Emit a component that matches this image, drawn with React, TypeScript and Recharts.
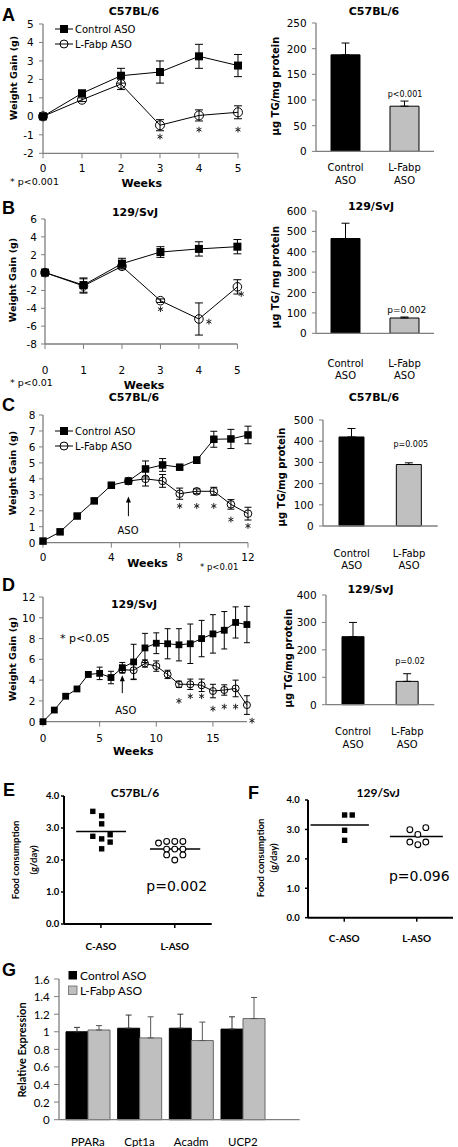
import React from 'react';
import { ComposedChart, BarChart, ScatterChart, Line, Bar, Scatter, Cell, XAxis, YAxis, ErrorBar, ReferenceLine } from 'recharts';

const VERDANA = '"DejaVu Sans", Verdana, sans-serif';
const CALIBRI = 'Lato, "Open Sans", sans-serif';
const ARIAL = '"Liberation Sans", Arial, sans-serif';
const AXIS = '#7f7f7f';

// ---------- Panel A ----------
const weeksA = [0, 1, 2, 3, 4, 5];
const ctrlA = [0, 1.25, 2.2, 2.4, 3.25, 2.75];
const ctrlErrA = [0, 0.15, 0.4, 0.6, 0.65, 0.6];
const lfabpA = [0, 0.9, 1.75, -0.48, 0.05, 0.22];
const lfabpErrA = [0, 0.1, 0.3, 0.3, 0.3, 0.35];
const starXA = [3, 4, 5];
const starYA = [-1.1, -0.72, -0.72];
const tgCats = ['Control\nASO', 'L-Fabp\nASO'];
const tgA = [188, 88];
const tgErrA = [23, 10];

// ---------- Panel B ----------
const weeksB = [0, 1, 2, 3, 4, 5];
const ctrlB = [0, -1.4, 1.0, 2.3, 2.65, 2.9];
const ctrlErrB = [0, 0.8, 0.6, 0.6, 0.8, 0.8];
const lfabpB = [0, -1.5, 0.7, -3.15, -5.2, -1.6];
const lfabpErrB = [0, 0.8, 0.2, 0.2, 1.8, 0.8];
const starXB = [3, 4.26, 5.1];
const starYB = [-4.1, -5.5, -2.4];
const tgB = [465, 75];
const tgErrB = [75, 5];

// ---------- Panel C ----------
const weeksC = [0, 1, 2, 3, 4, 5, 6, 7, 8, 9, 10, 11, 12];
const ctrlC = [0.1, 0.68, 1.67, 2.62, 3.6, 3.86, 4.62, 4.87, 4.73, 5.17, 6.48, 6.5, 6.75];
const ctrlErrC = [0, 0, 0.1, 0.15, 0.1, 0.1, 0.5, 0.4, 0.15, 0.2, 0.5, 0.6, 0.55];
const lfabpC = [null, null, null, null, null, 3.86, 4.0, 3.87, 3.07, 3.22, 3.22, 2.4, 1.82];
const lfabpErrC = [0, 0, 0, 0, 0, 0, 0.45, 0.4, 0.35, 0.15, 0.25, 0.3, 0.4];
const starXC = [8, 9, 10, 11, 12];
const starYC = [2.3, 2.3, 2.3, 1.45, 1.05];
const arrowC = [5, 1.66, 2.9];
const tgC = [420, 290];
const tgErrC = [40, 8];

// ---------- Panel D ----------
const weeksD = [0, 1, 2, 3, 4, 5, 6, 7, 8, 9, 10, 11, 12, 13, 14, 15, 16, 17, 18];
const ctrlD = [0, 1.12, 2.45, 3.15, 4.55, 4.65, 4.25, 5.2, 5.75, 7.1, 7.55, 7.5, 7.4, 7.5, 8.0, 8.45, 8.8, 9.55, 9.35];
const ctrlErrD = [0, 0, 0.15, 0.12, 0.25, 0.6, 0.6, 0.5, 1.7, 1.4, 1.0, 1.45, 1.55, 1.9, 1.75, 1.85, 1.8, 1.5, 1.75];
const lfabpD = [null, null, null, null, null, null, null, 5.0, 4.95, 5.6, 5.35, 4.55, 3.6, 3.6, 3.5, 2.95, 3.05, 3.2, 1.6];
const lfabpErrD = [0, 0, 0, 0, 0, 0, 0, 0.3, 0.85, 0.35, 0.5, 0.4, 0.3, 0.5, 0.6, 0.65, 0.5, 0.8, 0.9];
const starXD = [12, 13, 14, 15, 16, 17, 18.45];
const starYD = [2.0, 2.45, 2.45, 1.25, 1.45, 1.45, 0.1];
const arrowD = [7, 2.75, 4.47];
const tgD = [248, 85];
const tgErrD = [52, 28];

// ---------- Panel E / F ----------
const foodCats = ['C-ASO', 'L-ASO'];
const eCtrlX = [0.78, 1.02, 1.02, 0.78, 1.02, 1.25, 1.25, 1.02];
const eCtrlY = [3.52, 3.38, 3.13, 2.74, 2.66, 2.79, 2.56, 2.35];
const eLfX = [2.56, 2.78, 3.0, 3.22, 2.78, 3.0, 3.22, 2.78, 3.22, 3.0];
const eLfY = [2.53, 2.58, 2.58, 2.58, 2.34, 2.34, 2.34, 2.16, 2.16, 2.0];
const eMeanFrom = [0.33, 2.33];
const eMeanTo = [1.68, 3.69];
const eMean = [2.89, 2.34];
const fCtrlX = [1.01, 1.22, 1.01, 1.01];
const fCtrlY = [3.49, 3.49, 2.97, 2.63];
const fLfX = [2.81, 3.03, 3.25, 2.81, 3.03, 3.25];
const fLfY = [2.99, 2.83, 3.06, 2.57, 2.48, 2.57];
const fMeanFrom = [0.07, 2.26];
const fMeanTo = [1.68, 3.72];
const fMean = [3.15, 2.76];

// ---------- Panel G ----------
const genes = ['PPARa', 'Cpt1a', 'Acadm', 'UCP2'];
const gCtrl = [1.0, 1.04, 1.04, 1.03];
const gCtrlErr = [0.05, 0.15, 0.16, 0.14];
const gLf = [1.02, 0.93, 0.9, 1.15];
const gLfErr = [0.05, 0.24, 0.21, 0.24];
const gTicks = [0, 0.2, 0.4, 0.6, 0.8, 1, 1.2, 1.4, 1.6];

const TG_FILLS = ['#000000', '#c0c0c0'];
const PAD = 6;

function frame(x0: number, y0: number, x1: number, y1: number, yw: number, xh: number) {
  const left = x0 - yw - PAD;
  const top = y0 - PAD;
  return {
    left,
    top,
    ax: yw + PAD,
    ay: y1 - y0 + PAD,
    width: x1 - left + PAD,
    height: y1 - top + xh + PAD,
    margin: { top: PAD, left: PAD, right: PAD, bottom: PAD },
  };
}

function weekRows(weeks: number[], ctrl: any[], ctrlErr: number[], lf: any[], lfErr: number[]) {
  return weeks.map((w, i) => ({
    week: w,
    ctrl: ctrl[i],
    ctrlErr: ctrlErr[i] ? ctrlErr[i] : null,
    lf: lf[i],
    lfErr: lfErr[i] ? lfErr[i] : null,
  }));
}

// custom ticks, positioned from the axis line itself
const XTick = (p: any) => {
  const v = p.payload.value;
  const label = p.fmt ? p.fmt(v) : String(v);
  return (
    <text
      x={p.x}
      y={p.ay + p.off}
      textAnchor="middle"
      dominantBaseline="central"
      fontSize={p.fs}
      fontWeight={p.fw || 400}
      fontFamily={p.font}
      fill="#000"
    >
      {label}
    </text>
  );
};

const YTick = (p: any) => {
  const v = p.payload.value;
  const label = p.fmt ? p.fmt(v) : String(v);
  return (
    <text
      x={p.ax - p.gap}
      y={p.y}
      textAnchor="end"
      dominantBaseline="central"
      fontSize={p.fs}
      fontWeight={p.fw || 400}
      fontFamily={p.font}
      fill="#000"
    >
      {label}
    </text>
  );
};

const CatTick = (p: any) => {
  const lines = String(p.payload.value).split('\n');
  return (
    <text x={p.x} y={p.ay + p.off} textAnchor="middle" dominantBaseline="central" fontSize={p.fs} fill="#000" fontFamily={VERDANA}>
      {lines.map((l: string, i: number) => (
        <tspan key={i} x={p.x} dy={i === 0 ? 0 : p.lh}>
          {l}
        </tspan>
      ))}
    </text>
  );
};

const mkSquare = (s: number) => (p: any) =>
  p.cy == null || p.value == null ? (
    <g key={p.index} />
  ) : (
    <rect key={p.index} x={p.cx - s / 2} y={p.cy - s / 2} width={s} height={s} fill="#000" />
  );

const mkCircle = (r: number) => (p: any) =>
  p.cy == null || p.value == null ? (
    <g key={p.index} />
  ) : (
    <circle key={p.index} cx={p.cx} cy={p.cy} r={r} fill="none" stroke="#000" strokeWidth={1} />
  );

const starShape = (p: any) => {
  const { cx, cy } = p;
  const a = 2.9;
  const dx = a * 0.866;
  const dy = a * 0.5;
  return (
    <path
      d={`M${cx},${cy - a}L${cx},${cy + a}M${cx - dx},${cy - dy}L${cx + dx},${cy + dy}M${cx - dx},${cy + dy}L${cx + dx},${cy - dy}`}
      stroke="#222"
      strokeWidth={1}
      fill="none"
    />
  );
};

const arrowShape = (p: any) => {
  const { x1, y1, x2, y2 } = p;
  return (
    <g>
      <line x1={x1} y1={y1} x2={x2} y2={y2 + 4} stroke="#000" strokeWidth={1} />
      <polygon points={`${x2},${y2} ${x2 - 2.5},${y2 + 6} ${x2 + 2.5},${y2 + 6}`} fill="#000" />
    </g>
  );
};

function WeightChart(props: any) {
  const [x0, y0, x1, y1] = props.rect;
  const f = frame(x0, y0, x1, y1, 34, 40);
  const yMin = props.yDomain[0];
  return (
    <div style={{ position: 'absolute', left: f.left, top: f.top, fontFamily: VERDANA }}>
      <ComposedChart width={f.width} height={f.height} data={props.rows} margin={f.margin}>
        <XAxis
          type="number"
          dataKey="week"
          domain={props.xDomain}
          ticks={props.xTicks}
          interval={0}
          height={40}
          axisLine={props.axisTo == null ? { stroke: AXIS, strokeWidth: 1.3 } : false}
          tickLine={{ stroke: AXIS }}
          tickSize={5}
          tick={<XTick ay={f.ay} off={props.xOff} fs={10.5} font={VERDANA} />}
        />
        <YAxis
          type="number"
          domain={props.yDomain}
          ticks={props.yTicks}
          interval={0}
          width={34}
          axisLine={{ stroke: AXIS, strokeWidth: 1.3 }}
          tickLine={{ stroke: AXIS }}
          tickSize={4}
          tick={<YTick ax={f.ax} gap={props.yGap} fs={10.5} font={VERDANA} />}
        />
        {props.axisTo != null && (
          <ReferenceLine
            segment={[
              { x: 0, y: yMin },
              { x: props.axisTo, y: yMin },
            ]}
            stroke={AXIS}
            strokeWidth={1.3}
            ifOverflow="visible"
          />
        )}
        {props.arrow && (
          <ReferenceLine
            segment={[
              { x: props.arrow[0], y: props.arrow[1] },
              { x: props.arrow[0], y: props.arrow[2] },
            ]}
            stroke="#000"
            shape={arrowShape}
            ifOverflow="visible"
          />
        )}
        <Line
          dataKey="lf"
          stroke="#000"
          strokeWidth={1}
          dot={mkCircle(props.r)}
          activeDot={false}
          isAnimationActive={false}
          connectNulls={false}
        >
          <ErrorBar dataKey="lfErr" width={props.cap} stroke="#000" strokeWidth={1} direction="y" />
        </Line>
        <Line
          dataKey="ctrl"
          stroke="#000"
          strokeWidth={1}
          dot={mkSquare(props.sq)}
          activeDot={false}
          isAnimationActive={false}
        >
          <ErrorBar dataKey="ctrlErr" width={props.cap} stroke="#000" strokeWidth={1} direction="y" />
        </Line>
        <Scatter data={props.stars} dataKey="star" shape={starShape} isAnimationActive={false} />
      </ComposedChart>
    </div>
  );
}

function TGChart(props: any) {
  const [x0, y0, x1, y1] = props.rect;
  const f = frame(x0, y0, x1, y1, 40, 55);
  const rows = tgCats.map((c, i) => ({ cat: c, v: props.vals[i], e: [0, props.errs[i]] }));
  return (
    <div style={{ position: 'absolute', left: f.left, top: f.top, fontFamily: VERDANA }}>
      <BarChart width={f.width} height={f.height} data={rows} margin={f.margin} barGap={0}>
        <XAxis
          dataKey="cat"
          height={55}
          interval={0}
          axisLine={{ stroke: AXIS, strokeWidth: 1.3 }}
          tickLine={false}
          tickSize={0}
          tick={<CatTick ay={f.ay} off={props.off} lh={props.lh} fs={10} />}
        />
        <YAxis
          type="number"
          domain={props.yDomain}
          ticks={props.yTicks}
          interval={0}
          width={40}
          axisLine={{ stroke: AXIS, strokeWidth: 1.3 }}
          tickLine={{ stroke: AXIS }}
          tickSize={4}
          tick={<YTick ax={f.ax} gap={9.3} fs={10.5} font={VERDANA} />}
        />
        <Bar dataKey="v" barSize={props.barSize} stroke="#000" strokeWidth={1} isAnimationActive={false}>
          {rows.map((r, i) => (
            <Cell key={i} fill={TG_FILLS[i]} />
          ))}
          <ErrorBar dataKey="e" width={4} stroke="#000" strokeWidth={1} direction="y" />
        </Bar>
      </BarChart>
    </div>
  );
}

const sqShape = (p: any) => <rect x={p.cx - 2.7} y={p.cy - 2.7} width={5.4} height={5.4} fill="#000" />;
const ocShape = (p: any) => <circle cx={p.cx} cy={p.cy} r={2.9} fill="#fff" stroke="#000" strokeWidth={1.1} />;
const foodFmt = (v: number) => (v < 2 ? foodCats[0] : foodCats[1]);
const oneDec = (v: number) => v.toFixed(1);

function FoodChart(props: any) {
  const [x0, y0, x1, y1] = props.rect;
  const f = frame(x0, y0, x1, y1, 30, 36);
  const ctrl = props.cx.map((x: number, i: number) => ({ x, y: props.cy[i] }));
  const lf = props.lx.map((x: number, i: number) => ({ x, y: props.ly[i] }));
  return (
    <div style={{ position: 'absolute', left: f.left, top: f.top, fontFamily: CALIBRI }}>
      <ScatterChart width={f.width} height={f.height} margin={f.margin}>
        <XAxis
          type="number"
          dataKey="x"
          domain={[0, 4]}
          ticks={[1, 3]}
          interval={0}
          height={36}
          axisLine={{ stroke: '#000', strokeWidth: 2 }}
          tickLine={{ stroke: '#000', strokeWidth: 1.5 }}
          tickSize={4}
          tick={<XTick ay={f.ay} off={props.xOff} fs={10} fw={700} font={CALIBRI} fmt={foodFmt} />}
        />
        <YAxis
          type="number"
          dataKey="y"
          domain={[0, 4]}
          ticks={[0, 1, 2, 3, 4]}
          interval={0}
          width={30}
          axisLine={{ stroke: '#000', strokeWidth: 2 }}
          tickLine={{ stroke: '#000', strokeWidth: 1.5 }}
          tickSize={3}
          tick={<YTick ax={f.ax} gap={props.yGap} fs={9.5} fw={700} font={CALIBRI} fmt={oneDec} />}
        />
        {props.mFrom.map((m: number, i: number) => (
          <ReferenceLine
            key={i}
            segment={[
              { x: m, y: props.mean[i] },
              { x: props.mTo[i], y: props.mean[i] },
            ]}
            stroke="#000"
            strokeWidth={1.5}
          />
        ))}
        <Scatter data={ctrl} shape={sqShape} isAnimationActive={false} />
        <Scatter data={lf} shape={ocShape} isAnimationActive={false} />
      </ScatterChart>
    </div>
  );
}

const gFmt = (v: number) => String(Number(v.toFixed(1)));

function GChart() {
  const f = frame(59.3, 979.3, 300, 1120, 40, 32);
  const rows = genes.map((g, i) => ({
    gene: g,
    ctrl: gCtrl[i],
    ctrlErr: [0, gCtrlErr[i]],
    lf: gLf[i],
    lfErr: [0, gLfErr[i]],
  }));
  return (
    <div style={{ position: 'absolute', left: f.left, top: f.top, fontFamily: CALIBRI }}>
      <BarChart width={f.width} height={f.height} data={rows} margin={f.margin} barGap={0}>
        <XAxis
          dataKey="gene"
          height={32}
          interval={0}
          padding={{ left: 3, right: 31 }}
          axisLine={{ stroke: AXIS, strokeWidth: 1.3 }}
          tickLine={false}
          tickSize={0}
          tick={<XTick ay={f.ay} off={21.7} fs={11.5} font={CALIBRI} />}
        />
        <YAxis
          type="number"
          domain={[0, 1.6]}
          ticks={gTicks}
          interval={0}
          width={40}
          axisLine={{ stroke: AXIS, strokeWidth: 1.3 }}
          tickLine={{ stroke: AXIS }}
          tickSize={5}
          tick={<YTick ax={f.ax} gap={9.3} fs={11.5} font={CALIBRI} fmt={gFmt} />}
        />
        <Bar dataKey="ctrl" barSize={22} fill="#000" stroke="#000" isAnimationActive={false}>
          <ErrorBar dataKey="ctrlErr" width={3} stroke="#333" strokeWidth={1} direction="y" />
        </Bar>
        <Bar dataKey="lf" barSize={22} fill="#bfbfbf" stroke="#666" isAnimationActive={false}>
          <ErrorBar dataKey="lfErr" width={3} stroke="#555" strokeWidth={1} direction="y" />
        </Bar>
      </BarChart>
    </div>
  );
}

const Tx = (p: any) => {
  const rot = !!p.rotate;
  return (
    <text
      x={rot ? 0 : p.x}
      y={rot ? 0 : p.y}
      transform={rot ? `translate(${p.x},${p.y}) rotate(-90)` : undefined}
      textAnchor={p.anchor || 'middle'}
      dominantBaseline="central"
      fontSize={p.size}
      fontWeight={p.bold ? 700 : 400}
      fontFamily={p.font || VERDANA}
      fill="#000"
    >
      {p.children}
    </text>
  );
};

function LegendLines({ y1, y2 }: { y1: number; y2: number }) {
  return (
    <g>
      <line x1={55} y1={y1} x2={73} y2={y1} stroke="#000" />
      <rect x={60} y={y1 - 4} width={8} height={8} fill="#000" />
      <Tx x={75} y={y1} size={10} anchor="start">Control ASO</Tx>
      <line x1={55} y1={y2} x2={73} y2={y2} stroke="#000" />
      <circle cx={64} cy={y2} r={4} fill="none" stroke="#000" />
      <Tx x={75} y={y2} size={10} anchor="start">L-Fabp ASO</Tx>
    </g>
  );
}

function Overlay() {
  return (
    <svg
      width={458}
      height={1147}
      style={{ position: 'absolute', left: 0, top: 0, pointerEvents: 'none' }}
    >
      {/* panel letters */}
      <Tx x={2} y={15} size={18} bold font={ARIAL} anchor="start">A</Tx>
      <Tx x={2} y={208} size={18} bold font={ARIAL} anchor="start">B</Tx>
      <Tx x={2} y={405} size={18} bold font={ARIAL} anchor="start">C</Tx>
      <Tx x={2} y={585} size={18} bold font={ARIAL} anchor="start">D</Tx>
      <Tx x={3} y={790} size={18} bold font={ARIAL} anchor="start">E</Tx>
      <Tx x={248} y={793} size={18} bold font={ARIAL} anchor="start">F</Tx>
      <Tx x={2} y={970} size={18} bold font={ARIAL} anchor="start">G</Tx>

      {/* titles */}
      <Tx x={134} y={11} size={11} bold>C57BL/6</Tx>
      <Tx x={374} y={11} size={11} bold>C57BL/6</Tx>
      <Tx x={135} y={212.7} size={11} bold>129/SvJ</Tx>
      <Tx x={371} y={206} size={11} bold>129/SvJ</Tx>
      <Tx x={134} y={397} size={11} bold>C57BL/6</Tx>
      <Tx x={374} y={397} size={11} bold>C57BL/6</Tx>
      <Tx x={134} y={604} size={11} bold>129/SvJ</Tx>
      <Tx x={370.5} y={589} size={11} bold>129/SvJ</Tx>
      <Tx x={135} y={792.7} size={12} bold font={CALIBRI}>C57BL/6</Tx>
      <Tx x={378.3} y={792.7} size={12} bold font={CALIBRI}>129/SvJ</Tx>

      {/* weight gain axis titles */}
      <Tx x={13} y={78} size={9.5} bold rotate>Weight Gain (g)</Tx>
      <Tx x={12.5} y={280} size={9.5} bold rotate>Weight Gain (g)</Tx>
      <Tx x={12.5} y={473} size={9.5} bold rotate>Weight Gain (g)</Tx>
      <Tx x={12.5} y={659} size={9.5} bold rotate>Weight Gain (g)</Tx>
      <Tx x={141.7} y={183} size={11} bold>Weeks</Tx>
      <Tx x={144} y={385} size={11} bold>Weeks</Tx>
      <Tx x={147.5} y={563} size={11} bold>Weeks</Tx>
      <Tx x={133.3} y={751.7} size={11} bold>Weeks</Tx>

      {/* significance notes */}
      <Tx x={10} y={181} size={9.5} anchor="start">* p&lt;0.001</Tx>
      <Tx x={10} y={382} size={9.5} anchor="start">* p&lt;0.01</Tx>
      <Tx x={200} y={567} size={8.5} anchor="start">* p&lt;0.01</Tx>
      <Tx x={60} y={638} size={11} anchor="start">* p&lt;0.05</Tx>
      <Tx x={128} y={530.7} size={10}>ASO</Tx>
      <Tx x={125.8} y={710} size={10}>ASO</Tx>

      {/* legends */}
      <LegendLines y1={29} y2={44} />
      <LegendLines y1={431} y2={446} />

      {/* TG bar axis titles */}
      <Tx x={275} y={86} size={10} bold rotate>µg TG/mg protein</Tx>
      <Tx x={275} y={277} size={10} bold rotate>µg TG/ mg protein</Tx>
      <Tx x={281.7} y={477} size={10} bold rotate>µg TG/mg protein</Tx>
      <Tx x={288} y={658} size={10} bold rotate>µg TG/mg protein</Tx>
      <Tx x={405} y={94} size={8}>p&lt;0.001</Tx>
      <Tx x={406.7} y={310} size={9}>p=0.002</Tx>
      <Tx x={410.8} y={444} size={8}>p=0.005</Tx>
      <Tx x={410} y={661.7} size={8}>p=0.02</Tx>

      {/* food consumption */}
      <Tx x={15} y={860} size={9.5} bold rotate font={CALIBRI}>Food consumption</Tx>
      <Tx x={33} y={860} size={9.5} bold rotate font={CALIBRI}>(g/day)</Tx>
      <Tx x={260.7} y={858} size={9.5} bold rotate font={CALIBRI}>Food consumption</Tx>
      <Tx x={273.3} y={858} size={9.5} bold rotate font={CALIBRI}>(g/day)</Tx>
      <Tx x={176.7} y={886} size={14}>p=0.002</Tx>
      <Tx x={419.3} y={876} size={14}>p=0.096</Tx>

      {/* G legend and title */}
      <rect x={68.5} y={971} width={8.5} height={8.5} fill="#000" />
      <Tx x={80} y={975} size={12} font={CALIBRI} anchor="start">Control ASO</Tx>
      <rect x={68.5} y={986} width={8.5} height={8.5} fill="#bfbfbf" stroke="#666" strokeWidth={0.8} />
      <Tx x={80} y={990} size={12} font={CALIBRI} anchor="start">L-Fabp ASO</Tx>
      <Tx x={21.7} y={1050} size={11} bold rotate font={CALIBRI}>Relative Expression</Tx>
    </svg>
  );
}

export default function App() {
  const rowsA = weekRows(weeksA, ctrlA, ctrlErrA, lfabpA, lfabpErrA);
  const rowsB = weekRows(weeksB, ctrlB, ctrlErrB, lfabpB, lfabpErrB);
  const rowsC = weekRows(weeksC, ctrlC, ctrlErrC, lfabpC, lfabpErrC);
  const rowsD = weekRows(weeksD, ctrlD, ctrlErrD, lfabpD, lfabpErrD);
  const stars = (xs: number[], ys: number[]) => xs.map((x, i) => ({ week: x, star: ys[i] }));
  return (
    <div style={{ position: 'absolute', left: 0, top: 0, width: 458, height: 1147, background: '#fff', overflow: 'hidden' }}>
      <WeightChart
        rect={[42.7, 24, 237.7, 153.3]}
        rows={rowsA}
        stars={stars(starXA, starYA)}
        xDomain={[0, 5]}
        xTicks={[0, 1, 2, 3, 4, 5]}
        yDomain={[-2, 5]}
        yTicks={[-2, -1, 0, 1, 2, 3, 4, 5]}
        xOff={14.7}
        yGap={9.4}
        sq={8}
        r={4.5}
        cap={4}
      />
      <WeightChart
        rect={[45.3, 219, 45.3 + 5.2 * 38.48, 344]}
        rows={rowsB}
        stars={stars(starXB, starYB)}
        xDomain={[0, 5.2]}
        xTicks={[0, 1, 2, 3, 4, 5]}
        yDomain={[-8, 6]}
        yTicks={[-8, -6, -4, -2, 0, 2, 4, 6]}
        xOff={26}
        yGap={8}
        axisTo={5}
        sq={8}
        r={4.3}
        cap={4}
      />
      <WeightChart
        rect={[42.7, 415, 247.7, 542.7]}
        rows={rowsC}
        stars={stars(starXC, starYC)}
        xDomain={[0, 12]}
        xTicks={[0, 4, 8, 12]}
        yDomain={[0, 8]}
        yTicks={[0, 1, 2, 3, 4, 5, 6, 7, 8]}
        xOff={14.3}
        yGap={7.7}
        arrow={arrowC}
        sq={7.5}
        r={3.8}
        cap={3.5}
      />
      <WeightChart
        rect={[42.7, 597, 42.7 + 18.7 * 11.33, 721.7]}
        rows={rowsD}
        stars={stars(starXD, starYD)}
        xDomain={[0, 18.7]}
        xTicks={[0, 5, 10, 15]}
        yDomain={[0, 12]}
        yTicks={[0, 2, 4, 6, 8, 10, 12]}
        xOff={16.3}
        yGap={7.7}
        axisTo={18}
        arrow={arrowD}
        sq={6.8}
        r={3.5}
        cap={3}
      />
      <TGChart rect={[316, 23.3, 434, 151.7]} vals={tgA} errs={tgErrA} yDomain={[0, 250]} yTicks={[0, 50, 100, 150, 200, 250]} barSize={29} off={15.3} lh={13} />
      <TGChart rect={[316, 211, 434, 333.3]} vals={tgB} errs={tgErrB} yDomain={[0, 600]} yTicks={[0, 100, 200, 300, 400, 500, 600]} barSize={29} off={29.7} lh={12} />
      <TGChart rect={[323.3, 420, 438, 526]} vals={tgC} errs={tgErrC} yDomain={[0, 500]} yTicks={[0, 100, 200, 300, 400, 500]} barSize={25} off={27.3} lh={11.7} />
      <TGChart rect={[326, 595.3, 434.3, 705]} vals={tgD} errs={tgErrD} yDomain={[0, 400]} yTicks={[0, 100, 200, 300, 400]} barSize={22} off={26.7} lh={12.3} />
      <FoodChart
        rect={[64, 796.3, 211.7, 924.3]}
        cx={eCtrlX}
        cy={eCtrlY}
        lx={eLfX}
        ly={eLfY}
        mFrom={eMeanFrom}
        mTo={eMeanTo}
        mean={eMean}
        xOff={22.4}
        yGap={4.7}
      />
      <FoodChart
        rect={[308.3, 799.6, 453.3, 917.3]}
        cx={fCtrlX}
        cy={fCtrlY}
        lx={fLfX}
        ly={fLfY}
        mFrom={fMeanFrom}
        mTo={fMeanTo}
        mean={fMean}
        xOff={20.4}
        yGap={8.3}
      />
      <GChart />
      <Overlay />
    </div>
  );
}
